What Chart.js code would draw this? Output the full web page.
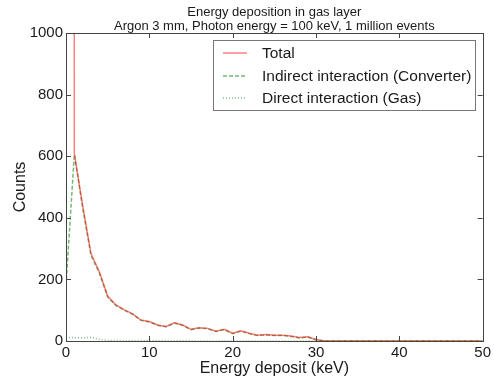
<!DOCTYPE html>
<html><head><meta charset="utf-8">
<script src="https://cdn.jsdelivr.net/npm/chart.js@4.4.1/dist/chart.umd.min.js"></script>
<style>html,body{margin:0;padding:0;background:#fff;}#wrap{width:494px;height:380px;}</style>
</head><body><div id="wrap"><canvas id="c" width="494" height="380"></canvas></div>
<script>
const titleLines = ["Energy deposition in gas layer", "Argon 3 mm, Photon energy = 100 keV, 1 million events"];
const energy = [0,1,2,3,4,5,6,7,8,9,10,11,12,13,14,15,16,17,18,19,20,21,22,23,24,25,26,27,28,29,30,31,32,33,34,35,36,37,38,39,40,41,42,43,44,45,46,47,48,49,50];
const total = [50000,609,440,284,225,146,117,101,88,68,63,52,47,59,52,38,43,41,32,38,25,33,25,19,21,19,19,16,11,14,5,0,0,0,0,0,0,0,0,0,0,0,0,0,0,0,0,0,0,0,0];
const indirect = [180,605,432,278,221,143,115,100,87,67,62,51,46,58,51,37,42,40,31,37,24,32,24,18,20,18,18,15,10,13,4,0,0,0,0,0,0,0,0,0,0,0,0,0,0,0,0,0,0,0,0];
const direct = [12,11,10,12,5,2,2,1,1,1,1,1,1,1,1,1,0,0,0,0,0,0,0,0,0,0,0,0,0,0,0,0,0,0,0,0,0,0,0,0,0,0,0,0,0,0,0,0,0,0,0];
const seriesNames = ["Total", "Indirect interaction (Converter)", "Direct interaction (Gas)"];
const xTicks = [0,10,20,30,40,50];
const yTicks = [0,200,400,600,800,1000];

const FONT = "'Liberation Sans', Arial, sans-serif";
const TXT = '#1a1a1a';
const pts = arr => energy.map((e,i)=>({x:e,y:arr[i]}));

const frame = {
  id:'frame',
  afterDatasetsDraw(chart){
    const {ctx, chartArea:a, scales} = chart;
    ctx.save();
    ctx.strokeStyle = '#444'; ctx.lineWidth = 1;
    ctx.beginPath();
    xTicks.forEach(v=>{const px=Math.round(scales.x.getPixelForValue(v))+0.5;
      ctx.moveTo(px,a.bottom); ctx.lineTo(px,a.bottom-5);
      ctx.moveTo(px,a.top); ctx.lineTo(px,a.top+5);});
    yTicks.forEach(v=>{const py=Math.round(scales.y.getPixelForValue(v))+0.5;
      ctx.moveTo(a.left,py); ctx.lineTo(a.left+5,py);
      ctx.moveTo(a.right,py); ctx.lineTo(a.right-5,py);});
    ctx.stroke();
    ctx.strokeRect(Math.round(a.left)+0.5, Math.round(a.top)+0.5, Math.round(a.right-a.left), Math.round(a.bottom-a.top));
    // title
    ctx.fillStyle = TXT; ctx.textAlign='center'; ctx.textBaseline='middle';
    ctx.font = "13px " + FONT;
    const cx = (a.left+a.right)/2;
    ctx.fillText(titleLines[0], cx, 12);
    ctx.fillText(titleLines[1], cx, 26);
    // legend
    const bx=213, by=40, bw=262, bh=70;
    ctx.fillStyle='#fff'; ctx.fillRect(bx,by,bw,bh);
    ctx.strokeStyle='#777'; ctx.strokeRect(bx+0.5,by+0.5,bw,bh);
    const ds = chart.data.datasets;
    const rows=[53,76,98];
    ds.forEach((d,i)=>{
      ctx.save();
      ctx.strokeStyle=d.borderColor; ctx.lineWidth=d.borderWidth; ctx.setLineDash(d.borderDash||[]);
      ctx.beginPath(); ctx.moveTo(223,rows[i]); ctx.lineTo(247,rows[i]); ctx.stroke();
      ctx.restore();
      ctx.fillStyle=TXT; ctx.textAlign='left'; ctx.font="15.5px "+FONT;
      ctx.fillText(seriesNames[i], 262, rows[i]+1);
    });
    ctx.restore();
  }
};

new Chart(document.getElementById('c'), {
  type:'line',
  data:{datasets:[
    {label:seriesNames[0], data:pts(total), borderColor:'rgba(255,0,0,0.5)', borderWidth:1.5, pointRadius:0, tension:0},
    {label:seriesNames[1], data:pts(indirect), borderColor:'rgba(0,128,0,0.55)', borderWidth:1.5, borderDash:[4,2], pointRadius:0, tension:0},
    {label:seriesNames[2], data:pts(direct), borderColor:'rgba(0,128,0,0.5)', borderWidth:1.5, borderDash:[1,2], pointRadius:0, tension:0}
  ]},
  options:{
    responsive:false, animation:false, devicePixelRatio:1,
    layout:{padding:{top:33,right:11,left:0,bottom:0}},
    plugins:{legend:{display:false}, title:{display:false}, tooltip:{enabled:false}},
    scales:{
      x:{type:'linear', min:0, max:50,
        afterBuildTicks:s=>{s.ticks=xTicks.map(v=>({value:v}));},
        afterFit:s=>{s.height=39;},
        grid:{display:false, drawTicks:false}, border:{display:false},
        ticks:{padding:3, color:TXT, font:{family:FONT,size:15}, callback:v=>String(v)},
        title:{display:true, text:'Energy deposit (keV)', color:TXT, font:{family:FONT,size:16}, padding:{top:0,bottom:2}}},
      y:{type:'linear', min:0, max:1000,
        afterBuildTicks:s=>{s.ticks=yTicks.map(v=>({value:v}));},
        afterFit:s=>{s.width=66;},
        grid:{display:false, drawTicks:false}, border:{display:false},
        ticks:{padding:3, color:TXT, font:{family:FONT,size:15}, callback:v=>String(v)},
        title:{display:true, text:'Counts', color:TXT, font:{family:FONT,size:16}, padding:{top:11,bottom:0}}}
    }
  },
  plugins:[frame]
});
</script></body></html>
